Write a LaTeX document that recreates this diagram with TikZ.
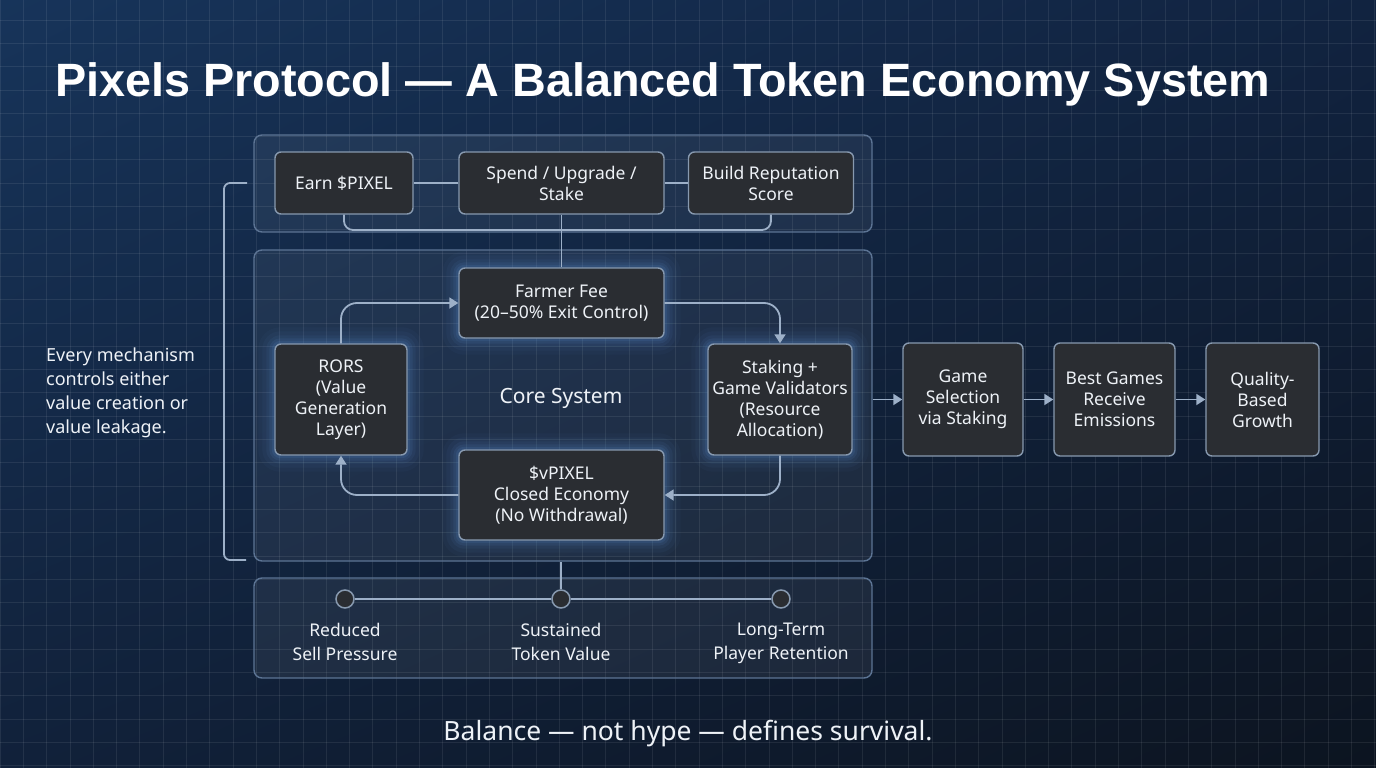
\documentclass[tikz,border=0pt]{standalone}
\usepackage{fontspec}
\setmainfont{Noto Sans}
\newfontfamily\titlefont{Liberation Sans}
\usetikzlibrary{arrows.meta,calc,shadings}
\pgfdeclarelayer{bglayer}
\pgfdeclarelayer{panellayer}
\pgfdeclarelayer{glowlayer}
\pgfsetlayers{bglayer,panellayer,glowlayer,main}
\definecolor{bgA}{HTML}{17345A}
\definecolor{bgB}{HTML}{112340}
\definecolor{bgC}{HTML}{11213A}
\definecolor{bgD}{HTML}{0C1420}
\definecolor{panelline}{HTML}{5C7494}
\definecolor{boxfill}{HTML}{2A2D32}
\definecolor{boxline}{HTML}{8799AF}
\definecolor{linec}{HTML}{9DB0C8}
\definecolor{txt}{HTML}{EEF2F7}
\definecolor{glowc}{HTML}{5A8ED0}
\newcommand\glowbox[1]{%
  \begin{pgfonlayer}{glowlayer}
  \foreach \d/\o in {16/0.04,12/0.055,8/0.075,5/0.1,2.5/0.13}{%
    \fill[glowc, opacity=\o, rounded corners={\d pt+6pt}]
      ($(#1.south west)+(-\d pt,-\d pt)$) rectangle ($(#1.north east)+(\d pt,\d pt)$);}
  \end{pgfonlayer}}
\tikzset{
  boxn/.style={draw=boxline, line width=1.4pt, fill=boxfill, rounded corners=6pt,
    text=txt, align=center, inner sep=0pt, font=\fontsize{17.5}{21}\selectfont},
  paneln/.style={draw=panelline, line width=1.4pt, fill=white, fill opacity=0.06,
    rounded corners=8pt, inner sep=0pt},
  conn/.style={draw=linec, line width=1.8pt},
  arr/.style={draw=linec, line width=1.8pt, -{Triangle[width=11pt,length=9pt]}, rounded corners=16pt},
  dotn/.style={circle, draw=boxline, line width=1.5pt, fill=boxfill, minimum size=18pt, inner sep=0pt},
  lbl/.style={text=txt, align=center, font=\fontsize{17.5}{24}\selectfont, inner sep=0pt}
}
\begin{document}
\begin{tikzpicture}[x=1pt,y=-1pt]
\useasboundingbox (0,0) rectangle (1376,768);
\begin{pgfonlayer}{bglayer}
\shade[upper left=bgA, upper right=bgB, lower left=bgC, lower right=bgD] (0,0) rectangle (1376,768);
\foreach \i in {0,...,59}{\draw[white, opacity=0.08, line width=0.8pt] (\i*23.3,0) -- (\i*23.3,768);}
\foreach \j in {0,...,33}{\draw[white, opacity=0.08, line width=0.8pt] (0,20+\j*23.3) -- (1376,20+\j*23.3);}
\end{pgfonlayer}

% title
\node[anchor=base west, text=white, inner sep=0pt] (title) at (55,96) {\resizebox{1215pt}{!}{\titlefont\fontsize{50}{54}\selectfont\bfseries Pixels Protocol — A Balanced Token Economy System}};

% panels
\begin{pgfonlayer}{panellayer}
\node[paneln, minimum width=618pt, minimum height=97pt] (topPanel) at (563,183.5) {};
\node[paneln, minimum width=618pt, minimum height=311pt] (corePanel) at (563,405.5) {};
\node[paneln, minimum width=618pt, minimum height=100pt] (botPanel) at (563,628) {};
\end{pgfonlayer}

% top row
\node[boxn, minimum width=138pt, minimum height=62pt] (earn) at (344,183) {Earn \$PIXEL};
\node[boxn, minimum width=205pt, minimum height=62pt] (spend) at (561.5,183) {Spend / Upgrade /\\Stake};
\node[boxn, minimum width=165pt, minimum height=62pt] (build) at (771,183) {Build Reputation\\Score};

% core
\node[boxn, minimum width=205pt, minimum height=70pt] (farmer) at (561.5,303) {Farmer Fee\\(20–50\% Exit Control)};
\node[boxn, minimum width=132pt, minimum height=111pt] (rors) at (341,399.5) {RORS\\(Value\\Generation\\Layer)};
\node[boxn, minimum width=144pt, minimum height=111pt] (staking) at (780,399.5) {Staking +\\Game Validators\\(Resource\\Allocation)};
\node[boxn, minimum width=205pt, minimum height=90pt] (vpixel) at (561.5,495) {\$vPIXEL\\Closed Economy\\(No Withdrawal)};
\node[text=txt, inner sep=0pt, font=\fontsize{21}{24}\selectfont] (core) at (561,398) {Core System};
\glowbox{farmer}\glowbox{rors}\glowbox{staking}\glowbox{vpixel}

% right chain
\node[boxn, minimum width=120pt, minimum height=113pt] (game) at (963,399.5) {Game\\Selection\\via Staking};
\node[boxn, minimum width=121pt, minimum height=113pt] (best) at (1114.5,399.5) {Best Games\\Receive\\Emissions};
\node[boxn, minimum width=113pt, minimum height=113pt] (quality) at (1262.5,399.5) {Quality-\\Based\\Growth};

% bottom outcomes
\node[dotn] (d1) at (345,599) {};
\node[dotn] (d2) at (561,599) {};
\node[dotn] (d3) at (781,599) {};
\node[lbl, anchor=north] (o1) at (345,623) {Reduced\\Sell Pressure};
\node[lbl, anchor=north] (o2) at (561,623) {Sustained\\Token Value};
\node[lbl, anchor=north] (o3) at (781,623) {Long-Term\\Player Retention};

% side text
\node[anchor=north west, align=left, text=txt, inner sep=0pt, font=\fontsize{18}{24}\selectfont] (side) at (46,348) {Every mechanism\\controls either\\value creation or\\value leakage.};

% caption
\node[text=txt, inner sep=0pt, font=\fontsize{26.5}{30}\selectfont] (caption) at (688,734) {Balance — not hype — defines survival.};

% connectors top
\draw[conn] (earn.east) -- (spend.west);
\draw[conn] (spend.east) -- (build.west);
\coordinate (brk) at (561,230);
\draw[conn, rounded corners=9pt] (earn.south) |- (brk) -| (build.south);
\draw[conn] (spend.south) -- (farmer.north);

% core loop
\draw[arr] (rors.north) |- (farmer.west);
\draw[arr] (farmer.east) -| (staking.north);
\draw[arr] (staking.south) |- (vpixel.east);
\draw[arr] (vpixel.west) -| (rors.south);

% right arrows
\draw[arr] (corePanel.east |- game.west) -- (game.west);
\draw[arr] (game.east) -- (best.west);
\draw[arr] (best.east) -- (quality.west);

% bottom
\draw[conn] (d2.north) -- (d2.north |- corePanel.south);
\draw[conn] (d1.east) -- (d2.west);
\draw[conn] (d2.east) -- (d3.west);

% left bracket
\coordinate (bt) at (247,183);
\coordinate (bb) at (246,560);
\draw[conn, rounded corners=6pt] (bt) -- (224,183) -- (224,560) -- (bb);
\end{tikzpicture}
\end{document}
